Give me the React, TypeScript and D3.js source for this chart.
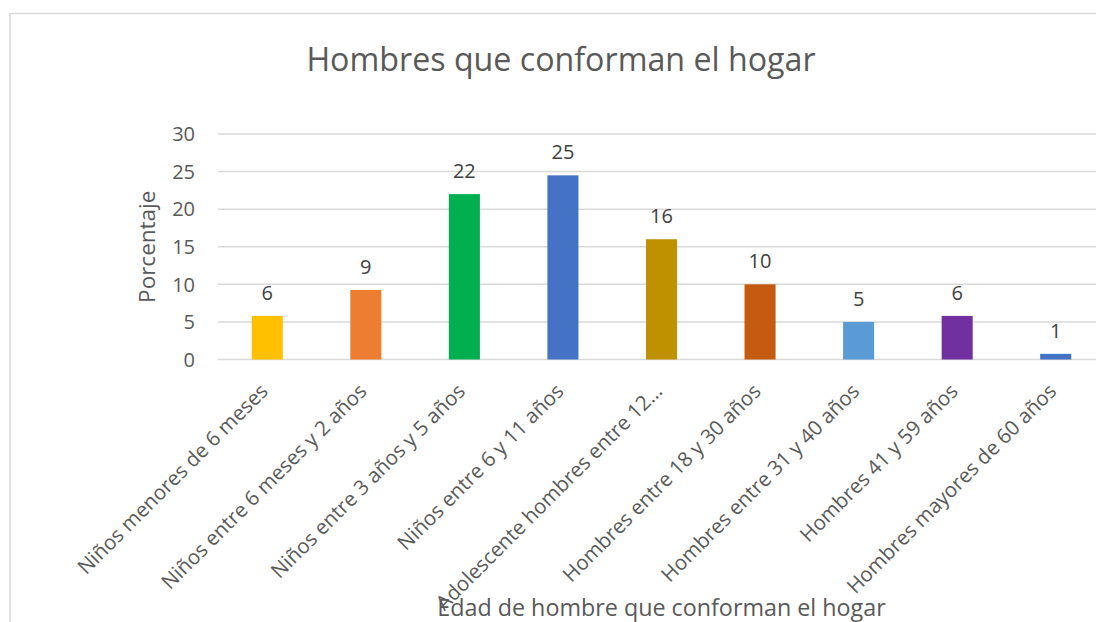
import React from "react";
import * as d3 from "d3";

const width = 1096;
const height = 622;
const margin = { top: 134, right: -9, bottom: 263, left: 218 };

const title = "Hombres que conforman el hogar";
const xTitle = "Edad de hombre que conforman el hogar";
const yTitle = "Porcentaje";

const categories = [
  "Niños menores de 6 meses",
  "Niños entre 6 meses y 2 años",
  "Niños entre 3 años y 5 años",
  "Niños entre 6 y 11 años",
  "Adolescente hombres entre 12…",
  "Hombres entre 18 y 30 años",
  "Hombres entre 31 y 40 años",
  "Hombres 41 y 59 años",
  "Hombres mayores de 60 años",
];
const values = [5.8, 9.25, 22, 24.5, 16, 10, 5, 5.8, 0.75];
const labels = ["6", "9", "22", "25", "16", "10", "5", "6", "1"];
const colors = [
  "#FFC000",
  "#ED7D31",
  "#00B050",
  "#4472C4",
  "#BF9000",
  "#C55A11",
  "#5B9BD5",
  "#7030A0",
  "#4472C4",
];
const yTicks = [0, 5, 10, 15, 20, 25, 30];

const font = "'Open Sans', sans-serif";
const textColor = "#595959";

export default function App() {
  const x = d3
    .scaleBand()
    .domain(categories)
    .range([margin.left, width - margin.right])
    .paddingInner(0.685)
    .paddingOuter(0.3425);

  const y = d3
    .scaleLinear()
    .domain([0, 30])
    .range([height - margin.bottom + 0.5, margin.top]);

  return (
    <>
      <style>{`body{margin:0}`}</style>
      <svg width={width} height={height} style={{ display: "block" }} fontFamily={font}>
        <rect x={0} y={0} width={width} height={height} fill="#fff" />
        <rect
          x={10}
          y={13.5}
          width={1110}
          height={640}
          fill="#fff"
          stroke="#d9d9d9"
          strokeWidth={1.5}
        />
        <text x={561} y={71} textAnchor="middle" fontSize={32.2} fill={textColor}>
          {title}
        </text>

        {yTicks.map((t) => (
          <g key={t}>
            <line
              x1={margin.left}
              x2={width - margin.right}
              y1={y(t)}
              y2={y(t)}
              stroke="#d9d9d9"
              strokeWidth={1.5}
            />
            <text
              x={195}
              y={y(t)}
              dy="0.36em"
              textAnchor="end"
              fontSize={20}
              fill={textColor}
            >
              {t}
            </text>
          </g>
        ))}

        <text
          transform={`translate(155, ${(y(0) + y(30)) / 2}) rotate(-90)`}
          textAnchor="middle"
          fontSize={22.5}
          fill={textColor}
        >
          {yTitle}
        </text>

        {categories.map((c, i) => {
          const bx = x(c) as number;
          const cx = bx + x.bandwidth() / 2;
          return (
            <g key={c}>
              <rect
                x={bx}
                y={y(values[i])}
                width={x.bandwidth()}
                height={y(0) - y(values[i])}
                fill={colors[i]}
              />
              <text
                x={cx}
                y={y(values[i]) - 16}
                textAnchor="middle"
                fontSize={20}
                fill="#404040"
              >
                {labels[i]}
              </text>
              <text
                transform={`translate(${cx + 2}, ${y(0) + 33}) rotate(-45)`}
                textAnchor="end"
                fontSize={20.5}
                fill={textColor}
              >
                {c}
              </text>
            </g>
          );
        })}

        <text
          x={(margin.left + width - margin.right) / 2}
          y={616}
          textAnchor="middle"
          fontSize={23.3}
          fill={textColor}
        >
          {xTitle}
        </text>
      </svg>
    </>
  );
}
